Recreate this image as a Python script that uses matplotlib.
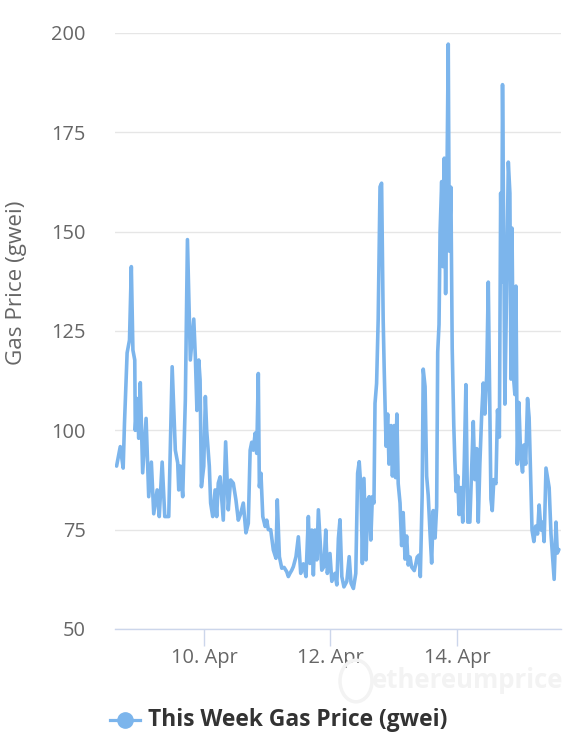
import matplotlib
matplotlib.use("Agg")
import matplotlib.pyplot as plt
import matplotlib.dates as mdates
from matplotlib.lines import Line2D
from matplotlib.patches import Circle
import pandas as pd

# ---- data -------------------------------------------------------------
start_date = "2020-04-08"
hours_since_start = [
    14.8, 16.2, 17.3, 17.8, 18.8, 19.7, 20.4, 21.0, 21.7, 21.9, 22.6, 23.2, 23.8,
    24.7, 26.0, 27.0, 28.0, 28.9, 30.2, 31.0, 32.1, 33.1, 34.6, 35.9, 37.1, 38.0,
    38.4, 39.0, 39.9, 40.9, 41.7, 42.8, 44.1, 44.7, 45.3, 46.0, 46.5, 47.0, 47.9,
    48.5, 49.0, 50.0, 50.5, 51.3, 52.2, 52.8, 53.4, 54.1, 55.3, 56.2, 57.2, 58.1,
    59.1, 60.1, 61.0, 61.9, 62.9, 63.9, 64.8, 65.5, 66.1, 66.7, 67.4, 68.0, 68.6,
    69.0, 69.6, 70.3, 71.2, 71.8, 72.4, 73.3, 74.3, 75.3, 75.8, 76.6, 77.5, 78.4,
    79.4, 80.0, 80.6, 81.3, 81.9, 82.9, 83.8, 84.7, 85.7, 86.7, 87.6, 88.2, 88.9,
    89.5, 90.1, 90.8, 91.4, 92.7, 93.5, 94.2, 94.8, 95.8, 96.5, 97.7, 98.4, 99.0,
    99.6, 100.3, 101.1, 102.2, 103.1, 103.8, 104.7, 105.6, 106.3, 106.9, 107.6,
    108.1, 108.7, 109.5, 110.1, 110.7, 111.3, 111.9, 112.5, 112.9, 113.5, 114.1,
    114.8, 115.4, 116.0, 116.4, 117.1, 117.7, 118.2, 119.0, 119.5, 120.2, 120.7,
    121.2, 121.7, 122.4, 123.0, 123.6, 124.3, 124.9, 125.5, 126.2, 126.8, 127.8,
    128.3, 128.9, 129.6, 130.1, 130.8, 131.2, 131.9, 132.5, 133.1, 133.8, 134.4,
    135.0, 135.7, 136.3, 136.7, 137.2, 137.6, 138.2, 138.7, 139.2, 139.7, 140.2,
    140.7, 141.1, 141.7, 142.2, 142.8, 143.2, 143.7, 144.3, 144.8, 145.5, 146.2,
    146.8, 147.4, 148.1, 148.9, 149.6, 150.2, 150.8, 151.5, 152.1, 152.7, 153.4,
    154.0, 154.6, 155.3, 155.9, 156.5, 156.9, 157.4, 158.0, 158.8, 159.4, 160.1,
    160.6, 161.0, 161.3, 161.8, 162.2, 162.9, 163.5, 164.1, 164.5, 164.9, 165.4,
    166.0, 166.4, 166.9, 167.5, 168.2, 168.9, 169.4, 170.1, 170.8, 171.4, 172.0,
    172.5, 173.2, 173.9, 174.6, 175.2, 175.9, 176.5, 177.1, 177.8, 178.3, 179.0,
    179.7, 180.3, 180.9, 181.6, 182.1, 182.7,
]
gas_price_gwei = [
    91.0, 95.9, 90.5, 101.8, 119.5, 122.7, 141.2, 120.2, 117.7, 100.0, 108.0, 98.0, 112.0,
    89.3, 103.0, 83.3, 92.0, 79.0, 85.0, 78.3, 92.0, 78.3, 78.3, 116.0, 95.0, 91.8,
    85.0, 91.0, 83.3, 107.6, 148.0, 117.7, 128.0, 118.5, 105.0, 117.7, 112.7, 85.8, 91.0,
    108.5, 100.0, 91.0, 81.7, 78.3, 85.0, 78.3, 86.7, 88.3, 77.4, 97.1, 80.0, 87.5,
    86.7, 82.5, 77.4, 79.0, 81.7, 74.2, 76.6, 95.0, 97.0, 95.0, 99.3, 94.2, 114.3,
    85.8, 89.2, 78.3, 75.8, 77.4, 75.0, 75.0, 69.9, 67.8, 82.5, 68.2, 65.3, 65.5,
    64.4, 63.2, 64.0, 64.8, 65.7, 68.2, 73.2, 64.0, 66.4, 63.2, 78.3, 66.5, 74.9,
    63.6, 74.9, 67.4, 80.0, 64.8, 65.7, 74.9, 64.0, 69.0, 62.0, 64.0, 61.1, 72.8,
    77.5, 63.2, 60.6, 62.0, 68.2, 61.5, 60.2, 64.0, 89.2, 92.1, 85.0,
    66.5, 87.9, 67.4, 82.5, 83.3, 72.4, 83.3, 81.7, 106.8, 111.8, 127.8,
    161.3, 162.2, 127.8, 115.0, 96.0, 104.1, 91.5, 101.2, 88.5, 101.2, 88.1,
    104.1, 86.6, 81.7, 71.0, 79.3, 67.6, 73.4, 66.1, 68.1, 65.6, 64.7,
    66.1, 68.1, 68.6, 63.2, 83.6, 115.4, 111.0, 88.5, 83.6, 73.9, 66.6,
    79.8, 72.9, 80.8, 119.7, 126.6, 150.0, 162.6, 141.2, 168.5, 134.4, 162.6,
    197.2, 145.1, 161.2, 120.7, 101.2, 92.4, 84.6, 88.5, 78.8, 85.6, 76.9,
    92.4, 111.5, 76.9, 76.9, 90.5, 102.2, 87.6, 95.4, 76.9, 91.5, 104.1,
    111.9, 104.1, 113.9, 137.3, 103.2, 82.7, 79.8, 87.6, 86.6, 105.1, 98.3,
    159.7, 137.3, 187.0, 146.0, 106.6, 137.3, 167.5, 159.7, 112.9, 150.9, 113.9,
    109.0, 136.3, 91.5, 107.0, 93.4, 89.5, 96.3, 91.5, 108.0, 103.2, 87.6,
    74.9, 72.0, 75.9, 73.9, 81.2, 74.9, 76.9, 72.0, 90.5, 88.5, 85.6,
    73.9, 68.1, 62.5, 76.9, 69.1, 70.0,
]
y_ticks = [50, 75, 100, 125, 150, 175, 200]
x_tick_dates = ["2020-04-10", "2020-04-12", "2020-04-14"]
series_name = "This Week Gas Price (gwei)"
y_title = "Gas Price (gwei)"
x_range_hours = [14.2, 183.5]

# ---- figure -----------------------------------------------------------
plt.rcParams["font.family"] = ["Open Sans", "DejaVu Sans"]
W, H = 572, 743
fig = plt.figure(figsize=(W / 100, H / 100), dpi=100)
left, right, top, bottom = 115, 561, 33, 629
ax = fig.add_axes([left / W, 1 - bottom / H, (right - left) / W, (bottom - top) / H])

t0 = pd.Timestamp(start_date)
times = t0 + pd.to_timedelta(hours_since_start, unit="h")
line_color = "#7cb5ec"
ax.plot(times, gas_price_gwei, color=line_color, lw=2.6, solid_joinstyle="round",
        solid_capstyle="round", zorder=3)

ax.set_ylim(50, 200)
ax.set_yticks(y_ticks)
ax.set_xlim(t0 + pd.Timedelta(hours=x_range_hours[0]), t0 + pd.Timedelta(hours=x_range_hours[1]))
ax.set_xticks([pd.Timestamp(d) for d in x_tick_dates])
ax.xaxis.set_major_formatter(mdates.DateFormatter("%d. %b"))

ax.grid(axis="y", color="#e6e6e6", lw=1.0)
ax.set_axisbelow(True)
for s in ["left", "right", "top"]:
    ax.spines[s].set_visible(False)
ax.spines["bottom"].set_color("#ccd6eb")
ax.spines["bottom"].set_linewidth(1.0)
ax.tick_params(axis="y", length=0, pad=21, labelsize=14.4, labelcolor="#666666")
ax.tick_params(axis="x", length=12, width=1.0, color="#ccd6eb", pad=2,
               labelsize=14.4, labelcolor="#666666")

fig.text(17 / W, 1 - 283 / H, y_title, rotation=90, ha="center", va="center",
         fontsize=16.2, color="#666666")

# watermark
fig.text(468 / W, 1 - 681 / H, "ethereumprice", ha="center", va="center",
         fontsize=18.5, fontweight="bold", color="#f3f3f3", zorder=0)
fig.patches.append(Circle((356 / W, 1 - 681 / H), 16 / W, transform=fig.transFigure,
                          fill=False, ec="#f3f3f3", lw=2.5))

# legend
ly = 1 - 720 / H
fig.lines.append(Line2D([110 / W, 140 / W], [ly, ly], transform=fig.transFigure,
                        color=line_color, lw=2.3))
fig.lines.append(Line2D([125 / W], [ly], transform=fig.transFigure, marker="o",
                        markersize=11, color=line_color, lw=0))
fig.text(148 / W, ly, series_name, ha="left", va="center", fontsize=16.4,
         fontweight="bold", color="#333333")

fig.savefig("out.png", dpi=100, facecolor="white")
